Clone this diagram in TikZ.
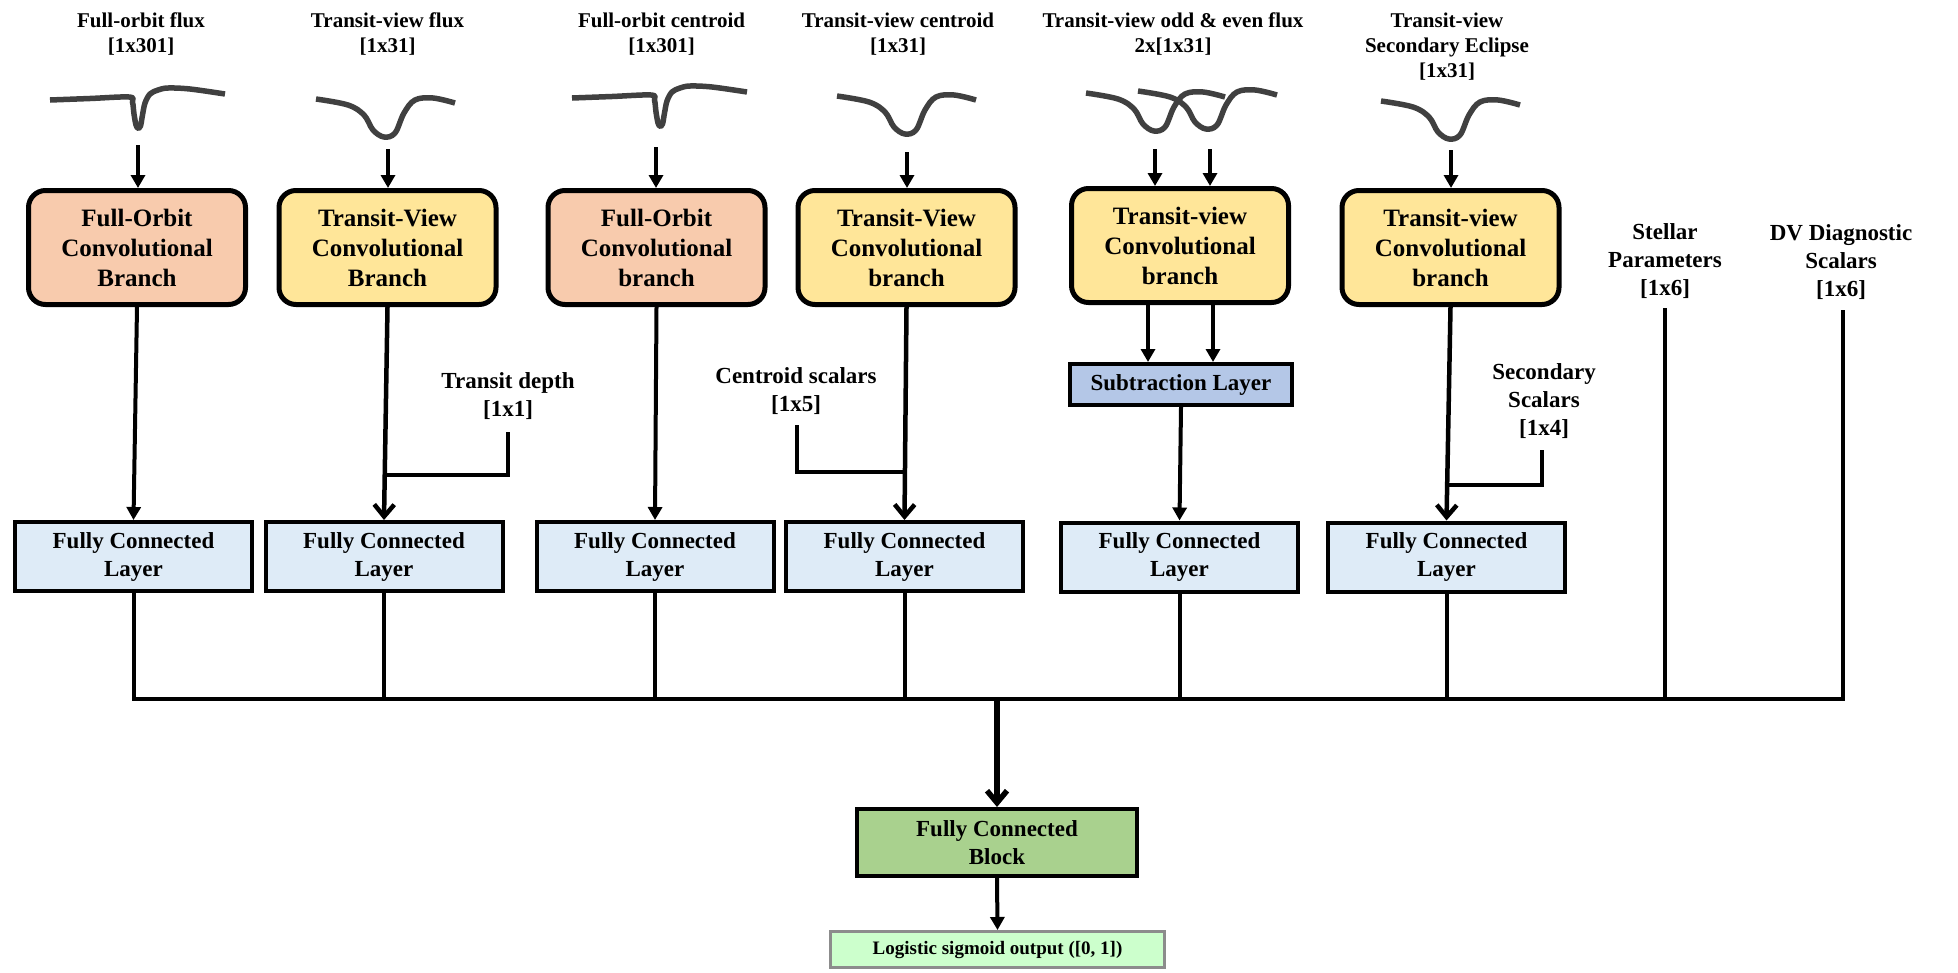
\documentclass[tikz,border=0pt]{standalone}
\usepackage{fontspec}
\setmainfont{Liberation Serif}
\usetikzlibrary{arrows.meta,calc}
\definecolor{peach}{HTML}{F8CBAD}
\definecolor{yel}{HTML}{FFE699}
\definecolor{fcblue}{HTML}{DEEBF7}
\definecolor{subblue}{HTML}{B4C7E7}
\definecolor{blockgreen}{HTML}{A9D18E}
\definecolor{outgreen}{HTML}{CCFFCC}
\definecolor{outborder}{HTML}{8C8C8C}
\definecolor{curvegray}{HTML}{404040}
\begin{document}
\begin{tikzpicture}[x=1pt,y=-1pt,
 conv/.style={draw, line width=5pt, rounded corners=17pt, minimum width=217pt, minimum height=114pt, align=center, font=\fontsize{25}{30}\selectfont\bfseries, inner sep=0pt},
 fc/.style={draw, line width=4pt, fill=fcblue, minimum width=237pt, minimum height=69pt, align=center, font=\fontsize{23}{28}\selectfont\bfseries, inner sep=0pt},
 lbl/.style={align=center, font=\fontsize{21}{25}\selectfont\bfseries, inner sep=0pt, anchor=north},
 slbl/.style={align=center, font=\fontsize{23}{28}\selectfont\bfseries, inner sep=0pt, anchor=north},
 wire/.style={line width=4pt},
 tri/.style={line width=4pt, -{Triangle[length=13pt,width=14pt]}},
 vee/.style={line width=4.5pt, -{Straight Barb[length=12pt,width=20pt]}},
 lcurve/.style={draw=curvegray, line width=5.5pt},
 fodip/.pic={\draw[lcurve] plot[smooth, tension=0.55] coordinates {(0,0) (40,-1.5) (79,-3) (82.5,2) (84,14) (86,25) (88,28) (90.5,26) (92.5,15) (95,3) (100,-6) (108,-10) (118,-12) (140,-11) (175,-6)};},
 tvdip/.pic={\draw[lcurve] plot[smooth, tension=0.6] coordinates {(0,0) (32,6) (48,16) (57,31) (68,38) (79,34) (88,14) (99,1) (117,-1) (139,4)};},
]
\useasboundingbox (0,0) rectangle (1958,972);

% input labels
\node[lbl] (t1) at (141,13) {Full-orbit flux\\{}[1x301]};
\node[lbl] (t2) at (387.5,13) {Transit-view flux\\{}[1x31]};
\node[lbl] (t3) at (661.5,13) {Full-orbit centroid\\{}[1x301]};
\node[lbl] (t4) at (898,13) {Transit-view centroid\\{}[1x31]};
\node[lbl] (t5) at (1173,13) {Transit-view odd \& even flux\\2x[1x31]};
\node[lbl] (t6) at (1447,13) {Transit-view\\Secondary Eclipse\\{}[1x31]};

% light curves
\pic at (50,100) {fodip};
\pic at (316,99) {tvdip};
\pic at (572,98) {fodip};
\pic at (837,96) {tvdip};
\pic at (1086,93) {tvdip};
\pic at (1138,91) {tvdip};
\pic at (1381,101) {tvdip};

% conv branches
\node[conv, fill=peach] (c1) at (137,247.5) {Full-Orbit\\Convolutional\\Branch};
\node[conv, fill=yel] (c2) at (387.5,247.5) {Transit-View\\Convolutional\\Branch};
\node[conv, fill=peach] (c3) at (656.5,247.5) {Full-Orbit\\Convolutional\\branch};
\node[conv, fill=yel] (c4) at (906.5,247.5) {Transit-View\\Convolutional\\branch};
\node[conv, fill=yel] (c5) at (1180,245.5) {Transit-view\\Convolutional\\branch};
\node[conv, fill=yel] (c6) at (1450.5,247.5) {Transit-view\\Convolutional\\branch};

% input arrows
\coordinate (in1) at (138,145);
\coordinate (in2) at (388,149);
\coordinate (in3) at (656,147);
\coordinate (in4) at (907,152);
\coordinate (in5a) at (1155,149);
\coordinate (in5b) at (1210,149);
\coordinate (in6) at (1451,150);
\draw[tri] (in1) -- (in1 |- c1.north);
\draw[tri] (in2) -- (in2 |- c2.north);
\draw[tri] (in3) -- (in3 |- c3.north);
\draw[tri] (in4) -- (in4 |- c4.north);
\draw[tri] (in5a) -- (in5a |- c5.north);
\draw[tri] (in5b) -- (in5b |- c5.north);
\draw[tri] (in6) -- (in6 |- c6.north);

% subtraction layer
\node[draw, line width=4pt, fill=subblue, minimum width=222pt, minimum height=41pt, font=\fontsize{23}{27}\selectfont\bfseries, inner sep=0pt] (sub) at (1181,384.5) {Subtraction Layer};

% fully connected layers
\node[fc] (f1) at (133.5,556.5) {Fully Connected\\Layer};
\node[fc] (f2) at (384,556.5) {Fully Connected\\Layer};
\node[fc] (f3) at (655,556.5) {Fully Connected\\Layer};
\node[fc] (f4) at (904.5,556.5) {Fully Connected\\Layer};
\node[fc] (f5) at (1179.5,557) {Fully Connected\\Layer};
\node[fc] (f6) at (1446.5,557) {Fully Connected\\Layer};

% scalar labels
\node[slbl] (l1) at (508,372) {Transit depth\\{}[1x1]};
\node[slbl] (l2) at (796,367) {Centroid scalars\\{}[1x5]};
\node[slbl] (l3) at (1544,363) {Secondary\\Scalars\\{}[1x4]};
\node[slbl] (l4) at (1665,223) {Stellar\\Parameters\\{}[1x6]};
\node[slbl] (l5) at (1841,224) {DV Diagnostic\\Scalars\\{}[1x6]};

% branch to FC connectors
\draw[tri] (c1.south) -- (f1.north);
\draw[vee] (c2.south) -- coordinate[pos=0.788] (j2) (f2.north);
\draw[tri] (c3.south) -- (f3.north);
\draw[vee] (c4.south) -- coordinate[pos=0.774] (j4) (f4.north);
\draw[tri] ([xshift=-32pt]c5.south) -- ([xshift=-32pt]c5.south |- sub.north);
\draw[tri] ([xshift=33pt]c5.south) -- ([xshift=33pt]c5.south |- sub.north);
\draw[tri] (sub.south) -- (f5.north);
\draw[vee] (c6.south) -- coordinate[pos=0.832] (j6) (f6.north);

% scalar connectors
\coordinate (td) at (508,432);
\coordinate (cs) at (797,425);
\coordinate (ss) at (1542,450);
\coordinate (sp) at (1665,308);
\coordinate (dv) at (1843,310);
\draw[wire] (td) |- (j2);
\draw[wire] (cs) |- (j4);
\draw[wire] (ss) |- (j6);

% final block and output
\node[draw, line width=4pt, fill=blockgreen, minimum width=280pt, minimum height=67pt, align=center, font=\fontsize{23}{28}\selectfont\bfseries, inner sep=0pt] (fcb) at (997,842.5) {Fully Connected\\Block};
\node[draw=outborder, line width=3pt, fill=outgreen, minimum width=334pt, minimum height=36pt, font=\fontsize{19}{22}\selectfont\bfseries, inner sep=0pt] (out) at (997.5,949.5) {Logistic sigmoid output ([0, 1])};

% bus
\coordinate (bus) at (0,699);
\draw[wire] (f1.south) |- (dv |- bus) -- (dv);
\draw[wire] (f2.south) -- (f2.south |- bus);
\draw[wire] (f3.south) -- (f3.south |- bus);
\draw[wire] (f4.south) -- (f4.south |- bus);
\draw[wire] (f5.south) -- (f5.south |- bus);
\draw[wire] (f6.south) -- (f6.south |- bus);
\draw[wire] (sp) -- (sp |- bus);
\draw[vee, line width=5.5pt] (fcb.north |- bus) -- (fcb.north);
\draw[tri] (fcb.south) -- (out.north);
\end{tikzpicture}
\end{document}
